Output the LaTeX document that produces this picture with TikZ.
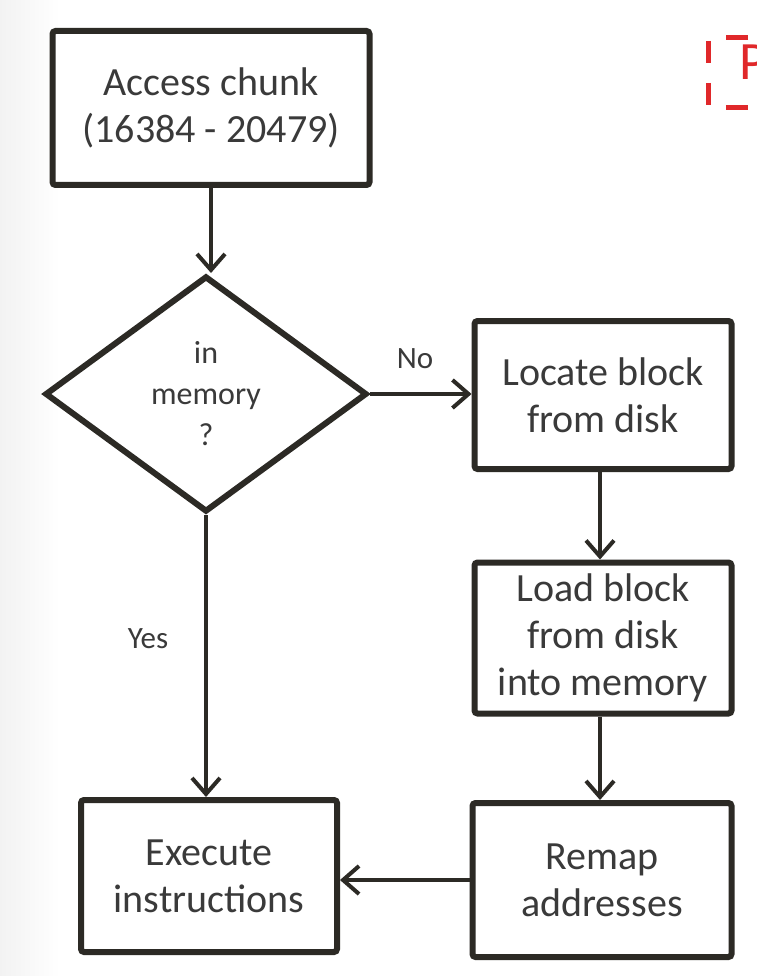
\documentclass[tikz,border=0pt]{standalone}
\usepackage{fontspec}
\setmainfont{Carlito}
\usetikzlibrary{shapes.geometric,arrows.meta}
\definecolor{ink}{HTML}{2C2A25}
\definecolor{txt}{HTML}{3A3A3A}
\definecolor{redd}{HTML}{E0282A}
\tikzset{
  boxnode/.style={draw=ink, line width=6pt, rounded corners=3pt, fill=white, inner sep=0pt,
    text=txt, align=center, font=\fontsize{40}{47}\selectfont},
  decnode/.style={draw=ink, line width=6pt, shape=diamond, fill=white, inner sep=0pt,
    minimum width=322pt, minimum height=236pt, text=txt, align=center,
    font=\fontsize{32}{41}\selectfont},
  flow/.style={draw=ink, line width=4pt, -{Straight Barb[length=16pt,width=28pt,line width=4pt]}},
  lbl/.style={text=txt, font=\fontsize{31}{36}\selectfont, inner sep=0pt}
}
\begin{document}
\begin{tikzpicture}[x=1pt,y=-1pt]
\useasboundingbox (0,0) rectangle (756,976);
\clip (0,0) rectangle (756,976);
\fill[white] (0,0) rectangle (756,976);
\shade[left color=black!5, right color=white] (0,0) rectangle (60,976);
% partial red dashed frame at top right
\draw[redd, line width=5pt, dash pattern=on 22pt off 20pt, rounded corners=2pt] (790,38) -- (708,38) -- (708,108) -- (790,108);
\node[text=redd, font=\fontsize{54}{60}\selectfont, anchor=west, inner sep=0pt] (ptxt) at (739,62) {P};
% nodes
\node[boxnode, minimum width=317pt, minimum height=154pt] (access) at (211,108) {Access chunk\\(16384 - 20479)};
\node[decnode] (dec) at (206,394) {in\\memory\\?};
\node[boxnode, minimum width=257pt, minimum height=148pt] (locate) at (603,395) {Locate block\\from disk};
\node[boxnode, minimum width=257pt, minimum height=151pt] (load) at (603,638) {Load block\\from disk\\into memory};
\node[boxnode, minimum width=259pt, minimum height=154pt] (remap) at (602,880) {Remap\\addresses};
\node[boxnode, minimum width=256pt, minimum height=152pt] (exec) at (209,876) {Execute\\instructions};
% connectors
\draw[flow] (access.south) -- (access.south |- dec.north);
\draw[flow] (dec.east) -- (dec.east -| locate.west);
\draw[flow] (dec.south) -- (dec.south |- exec.north);
\draw[flow] ([xshift=-3pt]locate.south) -- ([xshift=-3pt]locate.south |- load.north);
\draw[flow] ([xshift=-3pt]load.south) -- ([xshift=-3pt]load.south |- remap.north);
\draw[flow] (remap.west) -- (remap.west -| exec.east);
% labels
\node[lbl] (nolbl) at (415,359) {No};
\node[lbl] (yeslbl) at (148,639) {Yes};
\end{tikzpicture}
\end{document}
